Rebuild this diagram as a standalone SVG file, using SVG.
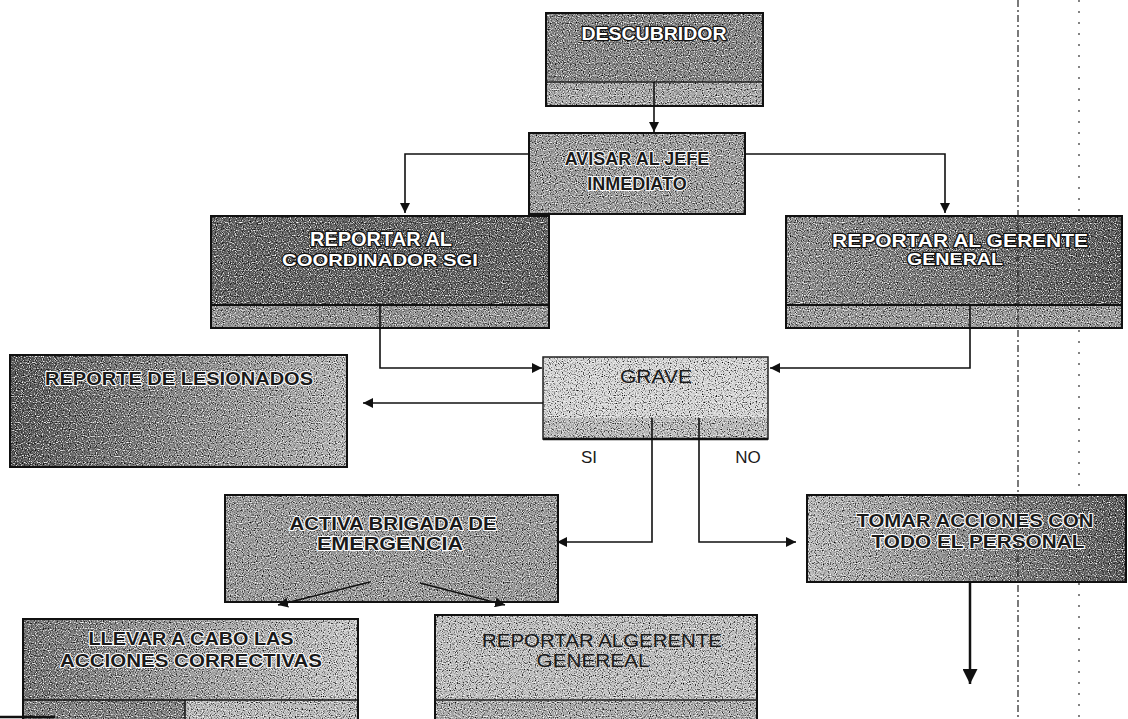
<svg xmlns="http://www.w3.org/2000/svg" width="1128" height="719" viewBox="0 0 1128 719">
<defs>
  <style>
    .t { font-family: "Liberation Sans", Arial, sans-serif; text-anchor: middle; }
    .wt { fill: #ffffff; stroke: #111111; stroke-width: 2.4; paint-order: stroke; stroke-linejoin: round; font-weight: bold; }
    .dk { fill: #1a1a1a; stroke: #ffffff; stroke-width: 2; paint-order: stroke; stroke-linejoin: round; font-weight: bold; }
    .pl { fill: #1a1a1a; }
    .bd { fill: none; stroke: #111111; stroke-width: 2; }
    .cn { fill: none; stroke: #111111; stroke-width: 1.6; }
  </style>
  <filter id="grain" x="0" y="0" width="1" height="1" color-interpolation-filters="sRGB">
    <feTurbulence type="fractalNoise" baseFrequency="0.85" numOctaves="1" seed="7" result="t"/>
    <feColorMatrix in="t" type="matrix" values="0 0 0 0 0  0 0 0 0 0  0 0 0 0 0  4 0 0 0 -2.15" result="dark"/>
    <feColorMatrix in="t" type="matrix" values="0 0 0 0 1  0 0 0 0 1  0 0 0 0 1  -4 0 0 0 1.95" result="light"/>
    <feMerge result="m"><feMergeNode in="SourceGraphic"/><feMergeNode in="dark"/><feMergeNode in="light"/></feMerge>
    <feComposite in="m" in2="SourceGraphic" operator="in"/>
  </filter>
  <linearGradient id="gGer" x1="0" y1="0" x2="1" y2="0">
    <stop offset="0" stop-color="#8c8c8c"/><stop offset="1" stop-color="#555555"/>
  </linearGradient>
  <linearGradient id="gLes" x1="0" y1="0" x2="1" y2="0">
    <stop offset="0" stop-color="#525252"/><stop offset="1" stop-color="#b4b4b4"/>
  </linearGradient>
  <linearGradient id="gTom" x1="0" y1="0" x2="1" y2="0">
    <stop offset="0" stop-color="#b8b8b8"/><stop offset="1" stop-color="#555555"/>
  </linearGradient>
  <linearGradient id="gLle" x1="0" y1="0" x2="1" y2="0">
    <stop offset="0" stop-color="#6e6e6e"/><stop offset="1" stop-color="#c6c6c6"/>
  </linearGradient>
  <marker id="ah" viewBox="0 0 10 10" refX="10" refY="5" markerWidth="10" markerHeight="10" markerUnits="userSpaceOnUse" orient="auto">
    <path d="M0,0 L10,5 L0,10 z" fill="#111111"/>
  </marker>
  <marker id="ahBig" viewBox="0 0 10 10" refX="10" refY="5" markerWidth="15" markerHeight="15" markerUnits="userSpaceOnUse" orient="auto">
    <path d="M0,0 L10,5 L0,10 z" fill="#111111"/>
  </marker>
</defs>
<rect width="1128" height="719" fill="#ffffff"/>

<g id="descubridor">
  <rect x="546" y="13" width="217" height="69" fill="#828282" filter="url(#grain)"/>
  <rect x="546" y="82" width="217" height="24" fill="#a6a6a6" filter="url(#grain)"/>
  <rect x="546" y="13" width="217" height="93" class="bd"/>
  <line x1="546" y1="82" x2="763" y2="82" stroke="#222" stroke-width="1.5"/>
  <text x="654" y="40" class="t wt" font-size="18" textLength="145" lengthAdjust="spacingAndGlyphs">DESCUBRIDOR</text>
</g>

<g id="avisar">
  <rect x="529" y="133" width="216" height="81" fill="#9a9a9a" filter="url(#grain)"/>
  <rect x="529" y="133" width="216" height="81" class="bd"/>
  <text x="637" y="165" class="t dk" font-size="18">AVISAR AL JEFE</text>
  <text x="637" y="190" class="t dk" font-size="18">INMEDIATO</text>
</g>

<g id="coordinador">
  <rect x="211" y="216" width="338" height="89" fill="#5e5e5e" filter="url(#grain)"/>
  <rect x="211" y="305" width="338" height="23" fill="#909090" filter="url(#grain)"/>
  <rect x="211" y="216" width="338" height="112" class="bd"/>
  <line x1="211" y1="305" x2="549" y2="305" stroke="#111" stroke-width="2"/>
  <text x="381" y="246" class="t wt" font-size="20" textLength="142" lengthAdjust="spacingAndGlyphs">REPORTAR AL</text>
  <text x="380" y="266" class="t wt" font-size="17" textLength="196" lengthAdjust="spacingAndGlyphs">COORDINADOR SGI</text>
</g>

<g id="gerente">
  <rect x="786" y="216" width="336" height="89" fill="url(#gGer)" filter="url(#grain)"/>
  <rect x="786" y="305" width="336" height="23" fill="#979797" filter="url(#grain)"/>
  <rect x="786" y="216" width="336" height="112" class="bd"/>
  <line x1="786" y1="305" x2="1122" y2="305" stroke="#111" stroke-width="2"/>
  <text x="960" y="247" class="t wt" font-size="19" textLength="256" lengthAdjust="spacingAndGlyphs">REPORTAR AL GERENTE</text>
  <text x="955" y="265" class="t wt" font-size="17" textLength="96" lengthAdjust="spacingAndGlyphs">GENERAL</text>
</g>

<g id="lesionados">
  <rect x="10" y="355" width="337" height="112" fill="url(#gLes)" filter="url(#grain)"/>
  <rect x="10" y="355" width="337" height="112" class="bd"/>
  <text x="179" y="385" class="t dk" font-size="19" textLength="268" lengthAdjust="spacingAndGlyphs">REPORTE DE LESIONADOS</text>
</g>

<g id="grave">
  <rect x="543" y="357" width="225" height="61" fill="#d4d4d4" filter="url(#grain)"/>
  <rect x="543" y="418" width="225" height="21" fill="#b8b8b8" filter="url(#grain)"/>
  <rect x="543" y="357" width="225" height="82" fill="none" stroke="#222" stroke-width="1.5"/>
  <line x1="543" y1="439" x2="768" y2="439" stroke="#111" stroke-width="2.5"/>
  <text x="656" y="383" class="t pl" font-size="18" textLength="72" lengthAdjust="spacingAndGlyphs">GRAVE</text>
</g>

<g id="labels">
  <text x="589" y="463" class="t pl" font-size="17">SI</text>
  <text x="748" y="463" class="t pl" font-size="17">NO</text>
</g>

<g id="activa">
  <rect x="225" y="495" width="333" height="107" fill="#969696" filter="url(#grain)"/>
  <rect x="225" y="495" width="333" height="107" class="bd"/>
  <text x="393" y="530" class="t dk" font-size="18" textLength="207" lengthAdjust="spacingAndGlyphs">ACTIVA BRIGADA DE</text>
  <text x="390" y="550" class="t dk" font-size="18" textLength="146" lengthAdjust="spacingAndGlyphs">EMERGENCIA</text>
</g>

<g id="tomar">
  <rect x="807" y="495" width="319" height="87" fill="url(#gTom)" filter="url(#grain)"/>
  <rect x="807" y="495" width="319" height="87" class="bd"/>
  <text x="975" y="527" class="t dk" font-size="18" textLength="237" lengthAdjust="spacingAndGlyphs">TOMAR ACCIONES CON</text>
  <text x="978" y="548" class="t dk" font-size="18" textLength="213" lengthAdjust="spacingAndGlyphs">TODO EL PERSONAL</text>
</g>

<g id="llevar">
  <rect x="23" y="619" width="335" height="81" fill="url(#gLle)" filter="url(#grain)"/>
  <rect x="23" y="700" width="162" height="19" fill="#7c7c7c" filter="url(#grain)"/>
  <rect x="185" y="700" width="173" height="19" fill="#b8b8b8" filter="url(#grain)"/>
  <path d="M23,719 V619 H358 V719" class="bd"/>
  <line x1="23" y1="700" x2="358" y2="700" stroke="#111" stroke-width="1.5"/>
  <line x1="185" y1="700" x2="185" y2="719" stroke="#111" stroke-width="1.5"/>
  <text x="191" y="645" class="t dk" font-size="18" textLength="205" lengthAdjust="spacingAndGlyphs">LLEVAR A CABO LAS</text>
  <text x="191" y="667" class="t dk" font-size="18" textLength="262" lengthAdjust="spacingAndGlyphs">ACCIONES CORRECTIVAS</text>
</g>

<g id="reportar-algerente">
  <rect x="435" y="615" width="322" height="85" fill="#bcbcbc" filter="url(#grain)"/>
  <rect x="435" y="700" width="322" height="19" fill="#a8a8a8" filter="url(#grain)"/>
  <path d="M435,719 V615 H757 V719" class="bd"/>
  <line x1="435" y1="700" x2="757" y2="700" stroke="#222" stroke-width="1.5"/>
  <text x="602" y="647" class="t pl" font-size="18" textLength="240" lengthAdjust="spacingAndGlyphs">REPORTAR ALGERENTE</text>
  <text x="593" y="667" class="t pl" font-size="18" textLength="113" lengthAdjust="spacingAndGlyphs">GENEREAL</text>
</g>

<g id="connectors">
  <path d="M654,82 V132" class="cn" marker-end="url(#ah)"/>
  <path d="M529,154 H405 V213" class="cn" marker-end="url(#ah)"/>
  <path d="M745,154 H945 V213" class="cn" marker-end="url(#ah)"/>
  <path d="M380,305 V368 H542" class="cn" marker-end="url(#ah)"/>
  <path d="M970,305 V368 H770" class="cn" marker-end="url(#ah)"/>
  <path d="M543,403 H363" class="cn" marker-end="url(#ah)"/>
  <path d="M652,418 V542 H557" class="cn" marker-end="url(#ah)"/>
  <path d="M699,418 V542 H796" class="cn" marker-end="url(#ah)"/>
  <path d="M370,582 L278,605" class="cn" marker-end="url(#ah)"/>
  <path d="M420,583 L505,605" class="cn" marker-end="url(#ah)"/>
  <path d="M970,582 V684" stroke="#111" stroke-width="2.5" fill="none" marker-end="url(#ahBig)"/>
</g>

<g id="scan-lines">
  <line x1="1018" y1="0" x2="1018" y2="719" stroke="#222" stroke-width="1.2" stroke-dasharray="7 3 2 3"/>
  <line x1="1079" y1="0" x2="1079" y2="719" stroke="#333" stroke-width="1.2" stroke-dasharray="2 9"/>
  <line x1="0" y1="717" x2="55" y2="717" stroke="#111" stroke-width="2.5"/>
</g>
</svg>
